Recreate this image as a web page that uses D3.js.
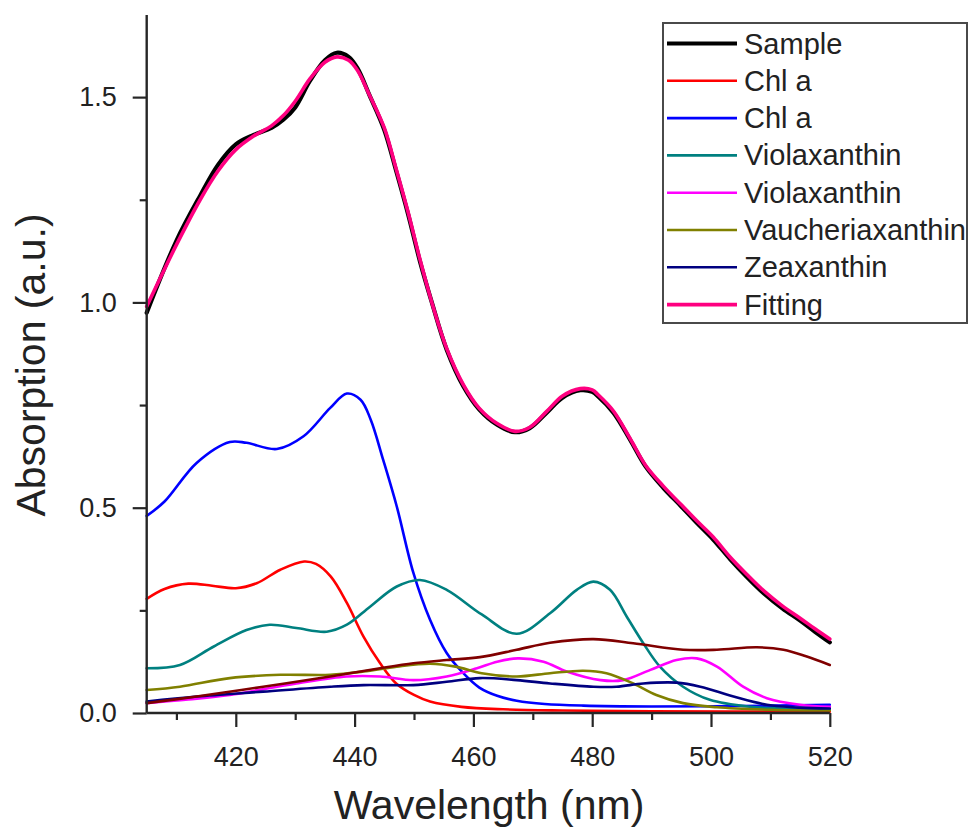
<!DOCTYPE html>
<html>
<head>
<meta charset="utf-8">
<script src="https://cdn.jsdelivr.net/npm/d3@7"></script>
<style>
  html, body { margin: 0; padding: 0; background: #fff; }
  svg { display: block; font-family: "Liberation Sans", Arial, sans-serif; }
</style>
</head>
<body>
<svg id="chart" width="968" height="828"></svg>
<script>
// Absorption spectrum and its Gaussian-like pigment components, [wavelength nm, absorbance]
const sample = [[405,0.975],[410,1.15],[414,1.26],[417,1.335],[420,1.385],[423,1.408],[426,1.425],[428,1.445],[430,1.475],[432.5,1.54],[435,1.59],[437,1.608],[439,1.598],[440.5,1.57],[442.5,1.505],[445,1.42],[447,1.32],[449,1.215],[451,1.10],[453,1.0],[455.5,0.885],[458.3,0.796],[461,0.739],[464,0.702],[467,0.684],[469.5,0.694],[472.3,0.731],[475,0.768],[478,0.786],[480,0.782],[481,0.771],[483.6,0.731],[486.4,0.665],[489,0.6],[492,0.548],[495,0.503],[497.6,0.463],[500.4,0.422],[503.2,0.375],[506,0.332],[509,0.29],[512,0.255],[515,0.225],[517.5,0.198],[520,0.172]];
const chlA1 = [[405,0.278],[408,0.302],[412,0.315],[416,0.310],[420,0.304],[423.5,0.316],[427.5,0.349],[431.5,0.369],[433.5,0.363],[436,0.332],[438.7,0.268],[441.5,0.186],[444.3,0.121],[447,0.072],[450,0.044],[452.7,0.028],[458,0.015],[465,0.009],[475,0.006],[490,0.004],[520,0.003]];
const chlA2 = [[405,0.48],[408,0.515],[413.4,0.609],[419,0.660],[421.8,0.658],[426.9,0.643],[431.4,0.674],[435.9,0.743],[438.7,0.778],[441,0.763],[442.7,0.715],[444.8,0.617],[447.1,0.503],[449.9,0.341],[452.7,0.227],[455.5,0.146],[458.3,0.097],[461,0.062],[464,0.042],[467.3,0.030],[472,0.022],[478.5,0.018],[490,0.016],[505,0.017],[520,0.02]];
const viola1 = [[405,0.109],[410.6,0.117],[416.3,0.162],[421.8,0.202],[425.7,0.215],[430.2,0.207],[435.3,0.198],[438.7,0.215],[442.6,0.259],[447.1,0.308],[451,0.324],[455.5,0.300],[461.4,0.24],[467.3,0.193],[472.9,0.243],[477.4,0.300],[480.2,0.320],[483,0.300],[485.8,0.235],[488.6,0.170],[491.4,0.113],[495.3,0.064],[499.8,0.032],[506.6,0.015],[512,0.011],[520,0.01]];
const viola2 = [[405,0.024],[412,0.033],[419,0.044],[430.2,0.072],[438.7,0.089],[444.3,0.089],[449.9,0.080],[455.5,0.089],[460.6,0.109],[464,0.125],[467.5,0.133],[471.8,0.125],[475.7,0.101],[481.4,0.080],[485.2,0.080],[489.8,0.105],[494.2,0.129],[497.6,0.133],[501,0.113],[505.4,0.064],[509.4,0.036],[515,0.020],[520,0.015]];
const vaucheria = [[405,0.056],[410.6,0.064],[419,0.085],[427.5,0.093],[435.9,0.093],[441.5,0.101],[447.1,0.113],[452.7,0.120],[457,0.113],[461.4,0.097],[467.3,0.089],[472.9,0.097],[478.5,0.103],[482.4,0.097],[486.9,0.072],[490.8,0.044],[495.3,0.024],[501,0.014],[510,0.008],[520,0.006]];
const zeaxanthin = [[405,0.028],[413.4,0.040],[424.6,0.052],[435.9,0.064],[441.5,0.068],[449.9,0.068],[455.5,0.076],[461.1,0.085],[467.3,0.080],[472.9,0.072],[480.2,0.064],[484.1,0.064],[488.6,0.072],[494.2,0.074],[498.2,0.064],[503.8,0.040],[509.4,0.020],[515,0.013],[520,0.011]];
const extraBand = [[405,0.024],[413.4,0.040],[424.6,0.064],[435.9,0.089],[444.3,0.109],[449.9,0.121],[455.5,0.129],[461.1,0.136],[467.3,0.154],[472.9,0.171],[480.2,0.180],[486.9,0.170],[495.3,0.154],[501,0.154],[507.7,0.160],[512.2,0.154],[516,0.138],[520,0.117]];
const fitting = [[405,0.99],[410,1.14],[414,1.25],[417,1.32],[420,1.372],[423,1.405],[426,1.43],[428,1.455],[430,1.49],[432.5,1.545],[435,1.585],[437,1.598],[439,1.59],[440.5,1.565],[442.5,1.505],[445,1.425],[447,1.325],[449,1.22],[451,1.105],[453,1.0],[455.5,0.888],[458.3,0.8],[461,0.742],[464,0.705],[467,0.686],[469.5,0.696],[472.3,0.734],[475,0.772],[478,0.79],[480,0.787],[481,0.775],[483.6,0.735],[486.4,0.668],[489,0.603],[492,0.552],[495,0.507],[497.6,0.468],[500.4,0.428],[503.2,0.38],[506,0.338],[509,0.296],[512,0.261],[515,0.231],[517.5,0.205],[520,0.18]];

const xMajorTicks = [420, 440, 460, 480, 500, 520];
const xMinorTicks = [410, 430, 450, 470, 490, 510];
const yMajorTicks = [0, 0.5, 1.0, 1.5];
const yMinorTicks = [0.25, 0.75, 1.25];

const legendNames = ["Sample", "Chl a", "Chl a", "Violaxanthin", "Violaxanthin", "Vaucheriaxanthin", "Zeaxanthin", "Fitting"];

const series = [
  { data: sample,     color: "#000000", width: 4.2, legend: 0 },
  { data: chlA1,      color: "#ff0000", width: 2.6, legend: 1 },
  { data: chlA2,      color: "#0000ff", width: 2.6, legend: 2 },
  { data: viola1,     color: "#008080", width: 2.6, legend: 3 },
  { data: viola2,     color: "#ff00ff", width: 2.6, legend: 4 },
  { data: vaucheria,  color: "#808000", width: 2.6, legend: 5 },
  { data: zeaxanthin, color: "#000080", width: 2.6, legend: 6 },
  { data: extraBand,  color: "#800000", width: 2.6, legend: -1 },
  { data: fitting,    color: "#ff0080", width: 3.6, legend: 7 }
];

const svg = d3.select("#chart");
const plotLeft = 146.7, plotRight = 829.8, plotTop = 15, plotBottom = 713;

const x = d3.scaleLinear().domain([405, 520]).range([plotLeft, plotRight]);
const y = d3.scaleLinear().domain([0, 1.7]).range([plotBottom, plotTop]);

const axisColor = "#262626";
const tickFont = 27;

// Curves (smooth spline through the sampled points)
const line = d3.line().x(d => x(d[0])).y(d => y(d[1])).curve(d3.curveCatmullRom.alpha(0.5));
const curves = svg.append("g");
series.forEach(s => {
  curves.append("path")
    .attr("d", line(s.data))
    .attr("fill", "none")
    .attr("stroke", s.color)
    .attr("stroke-width", s.width)
    .attr("stroke-linejoin", "round")
    .attr("stroke-linecap", "round");
});

// X axis: major + minor ticks
const xAxisG = svg.append("g").attr("transform", `translate(0,${plotBottom})`);
xAxisG.append("g")
  .call(d3.axisBottom(x).tickValues(xMinorTicks).tickSize(7).tickFormat(""))
  .call(g => g.select(".domain").remove());
xAxisG.append("g")
  .call(d3.axisBottom(x).tickValues(xMajorTicks).tickSize(14).tickFormat(d3.format("d")))
  .call(g => g.select(".domain").attr("d", `M${plotLeft},0H${plotRight}`));
xAxisG.selectAll("line").attr("stroke", axisColor).attr("stroke-width", 2.2);
xAxisG.selectAll(".domain").attr("stroke", axisColor).attr("stroke-width", 2.4);
xAxisG.selectAll("text")
  .attr("y", 53).attr("dy", null)
  .attr("font-size", tickFont).attr("fill", "#222")
  .attr("font-family", "Liberation Sans, Arial, sans-serif");

// Y axis: major + minor ticks
const yAxisG = svg.append("g").attr("transform", `translate(${plotLeft},0)`);
yAxisG.append("g")
  .call(d3.axisLeft(y).tickValues(yMinorTicks).tickSize(7).tickFormat(""))
  .call(g => g.select(".domain").remove());
yAxisG.append("g")
  .call(d3.axisLeft(y).tickValues(yMajorTicks).tickSize(14).tickPadding(16).tickFormat(d3.format(".1f")))
  .call(g => g.select(".domain").attr("d", `M0,${plotTop}V${plotBottom}`));
yAxisG.selectAll("line").attr("stroke", axisColor).attr("stroke-width", 2.2);
yAxisG.selectAll(".domain").attr("stroke", axisColor).attr("stroke-width", 2.4);
yAxisG.selectAll("text")
  .attr("font-size", tickFont).attr("fill", "#222")
  .attr("font-family", "Liberation Sans, Arial, sans-serif");

// Axis titles
svg.append("text")
  .attr("x", 489).attr("y", 819)
  .attr("text-anchor", "middle")
  .attr("font-size", 41).attr("fill", "#222")
  .text("Wavelength (nm)");
svg.append("text")
  .attr("transform", "translate(45,365) rotate(-90)")
  .attr("text-anchor", "middle")
  .attr("font-size", 41).attr("fill", "#222")
  .text("Absorption (a.u.)");

// Legend
const legend = svg.append("g");
legend.append("rect")
  .attr("x", 663).attr("y", 23).attr("width", 304).attr("height", 300)
  .attr("fill", "#fff").attr("stroke", "#4a4a4a").attr("stroke-width", 2);
series.filter(s => s.legend >= 0).forEach(s => {
  const ry = 43.5 + s.legend * 37.3;
  legend.append("line")
    .attr("x1", 667).attr("x2", 737).attr("y1", ry).attr("y2", ry)
    .attr("stroke", s.color).attr("stroke-width", s.width);
  legend.append("text")
    .attr("x", 744).attr("y", ry + 10)
    .attr("font-size", 29).attr("fill", "#222")
    .text(legendNames[s.legend]);
});
</script>
</body>
</html>
